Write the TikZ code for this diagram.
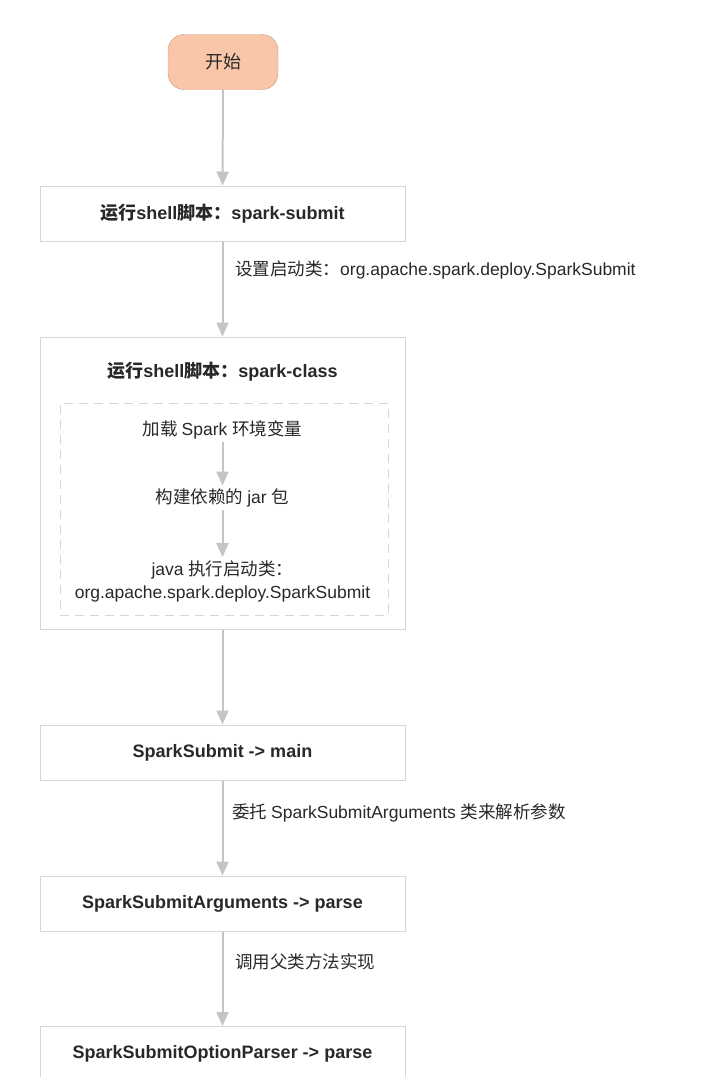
\documentclass[tikz,border=0pt]{standalone}
\usepackage{fontspec}
\setmainfont{Liberation Sans}
\newfontfamily\cjk[Scale=1.0]{Noto Sans CJK SC}
\usetikzlibrary{arrows.meta}

\begin{document}
\begin{tikzpicture}[x=1pt, y=-1pt]

    % Colours of the flow chart
    \definecolor{startfill}{RGB}{250,198,170}
    \definecolor{startline}{RGB}{205,150,120}
    \definecolor{boxline}{RGB}{214,214,214}
    \definecolor{flowgray}{RGB}{196,196,196}
    \definecolor{txtcol}{RGB}{40,40,40}

    % Common styles
    \tikzset{
        stepbox/.style={draw=boxline, line width=1pt, minimum width=365pt,
            minimum height=55pt, text=txtcol, font=\fontsize{18pt}{21pt}\selectfont\bfseries},
        startbox/.style={draw=startline, fill=startfill, rounded corners=16pt,
            minimum width=110pt, minimum height=55pt, text=txtcol,
            font=\fontsize{18pt}{20pt}\selectfont},
        plaintxt/.style={text=txtcol, align=center, inner sep=3pt,
            font=\fontsize{17.5pt}{23pt}\selectfont},
        flow/.style={draw=flowgray, line width=2pt,
            -{Triangle[width=12pt,length=14pt]}}
    }

    \useasboundingbox (0,0) rectangle (719,1077);

    % ===================== start and shell scripts =====================
    \node[startbox] (start) at (223,62) {\cjk 开始};
    \node[stepbox] (submit) at (222.5,213.5) {\cjk 运行\normalfont\bfseries shell\cjk 脚本：\normalfont\bfseries spark-submit};
    \node[plaintxt, anchor=west] (setcls) at (232,270)
        {\cjk 设置启动类：\normalfont org.apache.spark.deploy.SparkSubmit};

    % ===================== spark-class with its steps ===================
    \node[draw=boxline, line width=1pt, minimum width=365pt,
        minimum height=292pt] (classbox) at (222.5,483) {};
    \node[stepbox, draw=none, minimum height=0pt] (classtitle) at (222.5,372)
        {\cjk 运行\normalfont\bfseries shell\cjk 脚本：\normalfont\bfseries spark-class};
    \node[draw=boxline, line width=1pt, dash pattern=on 9pt off 6pt,
        minimum width=328pt, minimum height=212pt] (envbox) at (224,509) {};
    \node[plaintxt] (loadenv) at (222.5,430) {\cjk 加载 \normalfont Spark \cjk 环境变量};
    \node[plaintxt] (buildjar) at (222.5,498) {\cjk 构建依赖的 \normalfont jar \cjk 包};
    \node[plaintxt] (runjava) at (222.5,581)
        {java \cjk 执行启动类：\\org.apache.spark.deploy.SparkSubmit};

    % ===================== argument parsing ============================
    \node[stepbox] (mainstep) at (222.5,752.5) {SparkSubmit -> main};
    \node[plaintxt, anchor=west] (delegate) at (229,813)
        {\cjk 委托 \normalfont SparkSubmitArguments \cjk 类来解析参数};
    \node[stepbox] (argparse) at (222.5,903.5) {SparkSubmitArguments -> parse};
    \node[plaintxt, anchor=west] (parentcall) at (232,962) {\cjk 调用父类方法实现};
    \node[stepbox] (optparse) at (222.5,1054) {SparkSubmitOptionParser -> parse};

    % connectors
    \draw[flow] (start) -- (submit);
    \draw[flow] (submit) -- (classbox);
    \draw[flow] (loadenv) -- (buildjar);
    \draw[flow] (buildjar) -- (runjava);
    \draw[flow] (classbox) -- (mainstep);
    \draw[flow] (mainstep) -- (argparse);
    \draw[flow] (argparse) -- (optparse);

\end{tikzpicture}
\end{document}
